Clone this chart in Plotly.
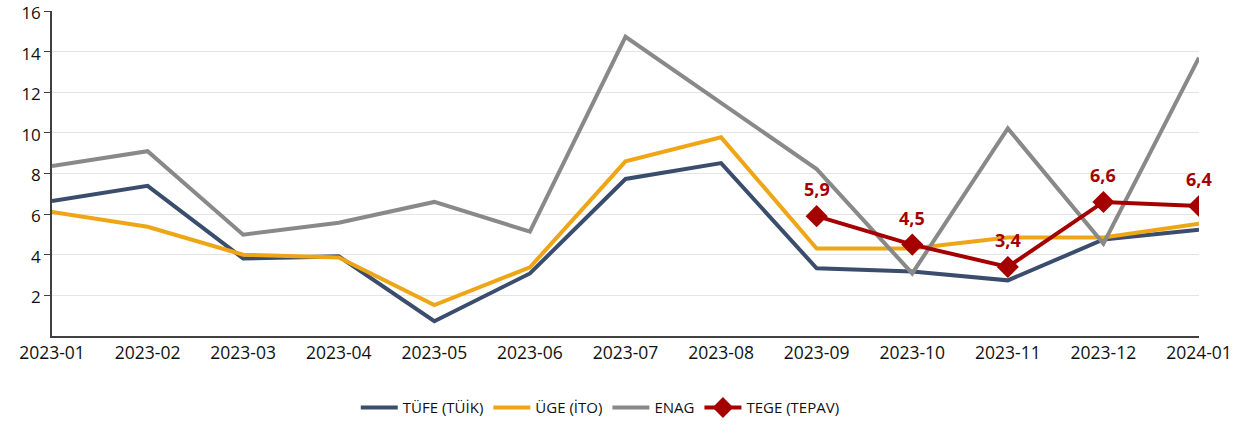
import plotly.graph_objects as go

months = ["2023-01", "2023-02", "2023-03", "2023-04", "2023-05", "2023-06", "2023-07",
          "2023-08", "2023-09", "2023-10", "2023-11", "2023-12", "2024-01"]
tufe = [6.65, 7.39, 3.82, 3.92, 0.73, 3.08, 7.73, 8.51, 3.33, 3.18, 2.74, 4.75, 5.23]
uge = [6.10, 5.38, 4.00, 3.87, 1.52, 3.38, 8.60, 9.78, 4.31, 4.31, 4.85, 4.85, 5.53]
enag = [8.37, 9.10, 4.99, 5.58, 6.60, 5.14, 14.73, 11.50, 8.22, 3.08, 10.22, 4.55, 13.70]
tege_months = ["2023-09", "2023-10", "2023-11", "2023-12", "2024-01"]
tege = [5.9, 4.5, 3.4, 6.6, 6.4]
tege_labels = ["5,9", "4,5", "3,4", "6,6", "6,4"]
yticks = [2, 4, 6, 8, 10, 12, 14, 16]

FONT = "Open Sans"
idx = {m: i for i, m in enumerate(months)}
xi = list(range(len(months)))

fig = go.Figure()
fig.add_trace(go.Scatter(x=xi, y=tufe, mode="lines", name="TÜFE (TÜİK)",
                         line=dict(color="#3B4D6D", width=4)))
fig.add_trace(go.Scatter(x=xi, y=uge, mode="lines", name="ÜGE (İTO)",
                         line=dict(color="#EFA616", width=4)))
fig.add_trace(go.Scatter(x=xi, y=enag, mode="lines", name="ENAG",
                         line=dict(color="#898989", width=4)))
tx = [idx[m] for m in tege_months]
fig.add_trace(go.Scatter(x=tx, y=tege, mode="lines+markers", name="TEGE (TEPAV)",
                         line=dict(color="#A50000", width=4),
                         marker=dict(symbol="diamond", size=17, color="#A50000")))

for x, y, t in zip(tx, tege, tege_labels):
    fig.add_annotation(x=x, y=y, text=t, showarrow=False, yshift=27,
                       font=dict(family=FONT, size=18, color="#A50000", weight="bold"))

fig.update_layout(
    width=1247, height=424,
    margin=dict(l=52, r=48, t=11, b=88, autoexpand=False),
    paper_bgcolor="white", plot_bgcolor="white",
    font=dict(family=FONT, size=17, color="#111111"),
    showlegend=True,
    legend=dict(orientation="h", x=0.478, xanchor="center", y=-0.17, yanchor="top",
                font=dict(family=FONT, size=15, color="#111111"),
                itemwidth=37, tracegroupgap=0),
)
fig.update_xaxes(range=[0, 12], tickvals=xi, ticktext=months, showgrid=False,
                 showline=True, linecolor="#404040", linewidth=1.5, ticks="",
                 zeroline=False, tickfont=dict(size=17.5), automargin=False,
                 ticklabeloverflow="allow")
fig.update_yaxes(range=[0, 16], tickvals=yticks, showgrid=True, gridcolor="#E4E4E4",
                 gridwidth=1, showline=True, linecolor="#404040", linewidth=1.5,
                 ticks="outside", ticklen=6, tickcolor="#404040", zeroline=False,
                 tickfont=dict(size=17), automargin=False, ticklabeloverflow="allow",
                 ticklabelshift=2)

fig.write_html("out.html", config={"displayModeBar": False},
               post_script="document.body.style.margin='0px';")
